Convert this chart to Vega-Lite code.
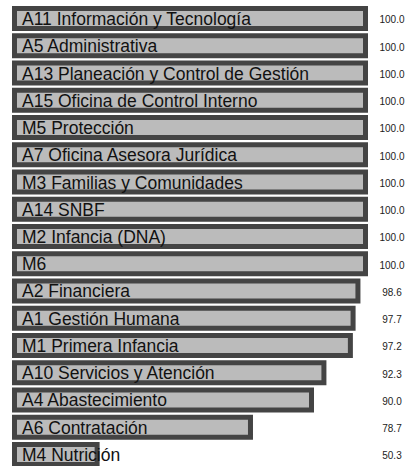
{
  "$schema": "https://vega.github.io/schema/vega-lite/v6.json",
  "autosize": "none",
  "width": 351,
  "height": 473,
  "padding": {"left": 14.5, "top": 0, "right": 41.5, "bottom": 0},
  "background": "white",
  "config": {"view": {"stroke": null}},
  "data": {
    "values": [
      {"area": "A11 Información y Tecnología", "valor": 100.0},
      {"area": "A5 Administrativa", "valor": 100.0},
      {"area": "A13 Planeación y Control de Gestión", "valor": 100.0},
      {"area": "A15 Oficina de Control Interno", "valor": 100.0},
      {"area": "M5 Protección", "valor": 100.0},
      {"area": "A7 Oficina Asesora Jurídica", "valor": 100.0},
      {"area": "M3 Familias y Comunidades", "valor": 100.0},
      {"area": "A14 SNBF", "valor": 100.0},
      {"area": "M2 Infancia (DNA)", "valor": 100.0},
      {"area": "M6", "valor": 100.0},
      {"area": "A2 Financiera", "valor": 98.6},
      {"area": "A1 Gestión Humana", "valor": 97.7},
      {"area": "M1 Primera Infancia", "valor": 97.2},
      {"area": "A10 Servicios y Atención", "valor": 92.3},
      {"area": "A4 Abastecimiento", "valor": 90.0},
      {"area": "A6 Contratación", "valor": 78.7},
      {"area": "M4 Nutrición", "valor": 50.3}
    ]
  },
  "encoding": {
    "y": {
      "field": "area",
      "type": "nominal",
      "sort": null,
      "axis": null,
      "scale": {"paddingInner": 0.2655, "paddingOuter": 0.312}
    }
  },
  "layer": [
    {
      "mark": {"type": "bar", "fill": "#bbbbbb", "stroke": "#444444", "strokeWidth": 5, "cornerRadius": 0},
      "encoding": {
        "x": {"field": "valor", "type": "quantitative", "axis": null, "scale": {"domain": [35, 100], "zero": false, "nice": false}},
        "x2": {"datum": 35}
      }
    },
    {
      "mark": {"type": "text", "align": "left", "baseline": "alphabetic", "dx": 7.5, "dy": 6.5, "font": "Arial, 'Liberation Sans', Helvetica, sans-serif", "fontSize": 17.5, "color": "#111111"},
      "encoding": {
        "x": {"datum": 35, "type": "quantitative"},
        "text": {"field": "area"}
      }
    },
    {
      "mark": {"type": "text", "align": "center", "baseline": "alphabetic", "dy": 4.8, "font": "Arial, 'Liberation Sans', Helvetica, sans-serif", "fontSize": 10, "color": "#222222"},
      "encoding": {
        "x": {"datum": 104.9, "type": "quantitative"},
        "text": {"field": "valor", "format": ".1f"}
      }
    }
  ]
}
